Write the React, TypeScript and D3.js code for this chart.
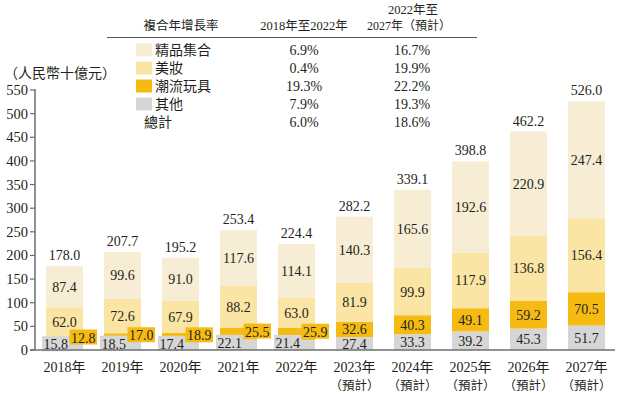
import React from 'react';
import * as d3 from 'd3';

const years = ['2018年', '2019年', '2020年', '2021年', '2022年', '2023年', '2024年', '2025年', '2026年', '2027年'];
const subLabels = ['', '', '', '', '', '（預計）', '（預計）', '（預計）', '（預計）', '（預計）'];
const others = [15.8, 18.5, 17.4, 22.1, 21.4, 27.4, 33.3, 39.2, 45.3, 51.7];
const toys = [12.8, 17.0, 18.9, 25.5, 25.9, 32.6, 40.3, 49.1, 59.2, 70.5];
const beauty = [62.0, 72.6, 67.9, 88.2, 63.0, 81.9, 99.9, 117.9, 136.8, 156.4];
const collection = [87.4, 99.6, 91.0, 117.6, 114.1, 140.3, 165.6, 192.6, 220.9, 247.4];
const totals = [178.0, 207.7, 195.2, 253.4, 224.4, 282.2, 339.1, 398.8, 462.2, 526.0];
const yTicks = [0, 50, 100, 150, 200, 250, 300, 350, 400, 450, 500, 550];

const cagrRows = ['精品集合', '美妝', '潮流玩具', '其他', '總計'];
const cagr1 = ['6.9%', '0.4%', '19.3%', '7.9%', '6.0%'];
const cagr2 = ['16.7%', '19.9%', '22.2%', '19.3%', '18.6%'];

const COLORS = ['#d6d6d6', '#f6bb12', '#fbe5a4', '#f7edd4'];
const LEGEND_COLORS = ['#f7edd4', '#fbe5a4', '#f6bb12', '#d6d6d6'];
const TEXT = '#231f20';
const FONT = "'Liberation Serif', 'Times New Roman', 'Noto Sans CJK TC', serif";

export default function App() {
  const W = 621, H = 398;
  const x = d3.scaleBand<string>().domain(years).range([35.5, 615.5]).paddingInner(0.362).paddingOuter(0.181);
  const y = d3.scaleLinear().domain([0, 550]).range([350, 90]);
  const series = [others, toys, beauty, collection];
  const stackData = years.map((yr, i) => ({ yr, s0: others[i], s1: toys[i], s2: beauty[i], s3: collection[i] }));
  const stacked = d3.stack<any>().keys(['s0', 's1', 's2', 's3'])(stackData);
  const bw = x.bandwidth();
  const charW = (s: string) => s.length * 7 - 3.5;

  return (
    <svg width={W} height={H} style={{ position: 'absolute', left: 0, top: 0, background: '#fff', fontFamily: FONT }} fill={TEXT}>
      {/* bars */}
      {stacked.map((layer, li) => (
        <g key={li}>
          {layer.map((d, i) => (
            <rect key={i} x={x(years[i])} y={y(d[1])} width={bw} height={y(d[0]) - y(d[1])} fill={COLORS[li]} />
          ))}
        </g>
      ))}
      {/* segment labels */}
      {stacked.map((layer, li) => (
        <g key={'l' + li}>
          {layer.map((d, i) => {
            const cx = (x(years[i]) as number) + bw / 2;
            const val = series[li][i].toFixed(1);
            const cy = y((d[0] + d[1]) / 2);
            const historic = subLabels[i] === '';
            if (historic && li < 2) {
              const tw = charW(val) + 3;
              const bx = li === 0 ? cx + 5 - tw : cx + 5;
              return (
                <g key={i}>
                  <rect x={bx} y={cy - 10} width={tw} height={15} fill={COLORS[li]} />
                  <text x={bx + tw / 2} y={cy + 3} textAnchor="middle" fontSize={14}>{val}</text>
                </g>
              );
            }
            return <text key={i} x={cx} y={cy + 5} textAnchor="middle" fontSize={14}>{val}</text>;
          })}
        </g>
      ))}
      {/* totals */}
      {totals.map((t, i) => (
        <text key={'t' + i} x={(x(years[i]) as number) + bw / 2} y={y(t) - 6} textAnchor="middle" fontSize={14}>{t.toFixed(1)}</text>
      ))}
      {/* y axis */}
      <line x1={35} x2={35} y1={89} y2={350} stroke="#6d6e71" strokeWidth={1.5} />
      {yTicks.map((t) => (
        <g key={'y' + t}>
          <line x1={30} x2={35} y1={y(t)} y2={y(t)} stroke="#6d6e71" strokeWidth={1.2} />
          <text x={28} y={y(t) + 5} textAnchor="end" fontSize={14.5}>{t}</text>
        </g>
      ))}
      <line x1={30} x2={615} y1={350} y2={350} stroke="#6d6e71" strokeWidth={1.5} />
      <text x={4} y={78} fontSize={14}>（人民幣十億元）</text>
      {/* x labels */}
      {years.map((yr, i) => (
        <g key={'x' + i}>
          <text x={(x(yr) as number) + bw / 2} y={372} textAnchor="middle" fontSize={14}>{yr}</text>
          {subLabels[i] && (
            <text x={(x(yr) as number) + bw / 2} y={390} textAnchor="middle" fontSize={12.5}>{subLabels[i]}</text>
          )}
        </g>
      ))}
      {/* CAGR table */}
      <text x={181} y={30} textAnchor="middle" fontSize={12.5}>複合年增長率</text>
      <text x={304} y={30} textAnchor="middle" fontSize={12.5}>2018年至2022年</text>
      <text x={413} y={14} textAnchor="middle" fontSize={12.5}>2022年至</text>
      <text x={409} y={30} textAnchor="middle" fontSize={12}>2027年（預計）</text>
      <line x1={107} x2={477} y1={37.5} y2={37.5} stroke="#58595b" strokeWidth={1.2} />
      {cagrRows.map((name, i) => {
        const ry = 50 + i * 18;
        return (
          <g key={'c' + i}>
            {i < 4 && <rect x={136} y={ry - 6.5} width={16} height={13} fill={LEGEND_COLORS[i]} />}
            <text x={i < 4 ? 155 : 144} y={ry + 5} fontSize={14}>{name}</text>
            <text x={304} y={ry + 5} textAnchor="middle" fontSize={14}>{cagr1[i]}</text>
            <text x={412} y={ry + 5} textAnchor="middle" fontSize={14}>{cagr2[i]}</text>
          </g>
        );
      })}
    </svg>
  );
}
